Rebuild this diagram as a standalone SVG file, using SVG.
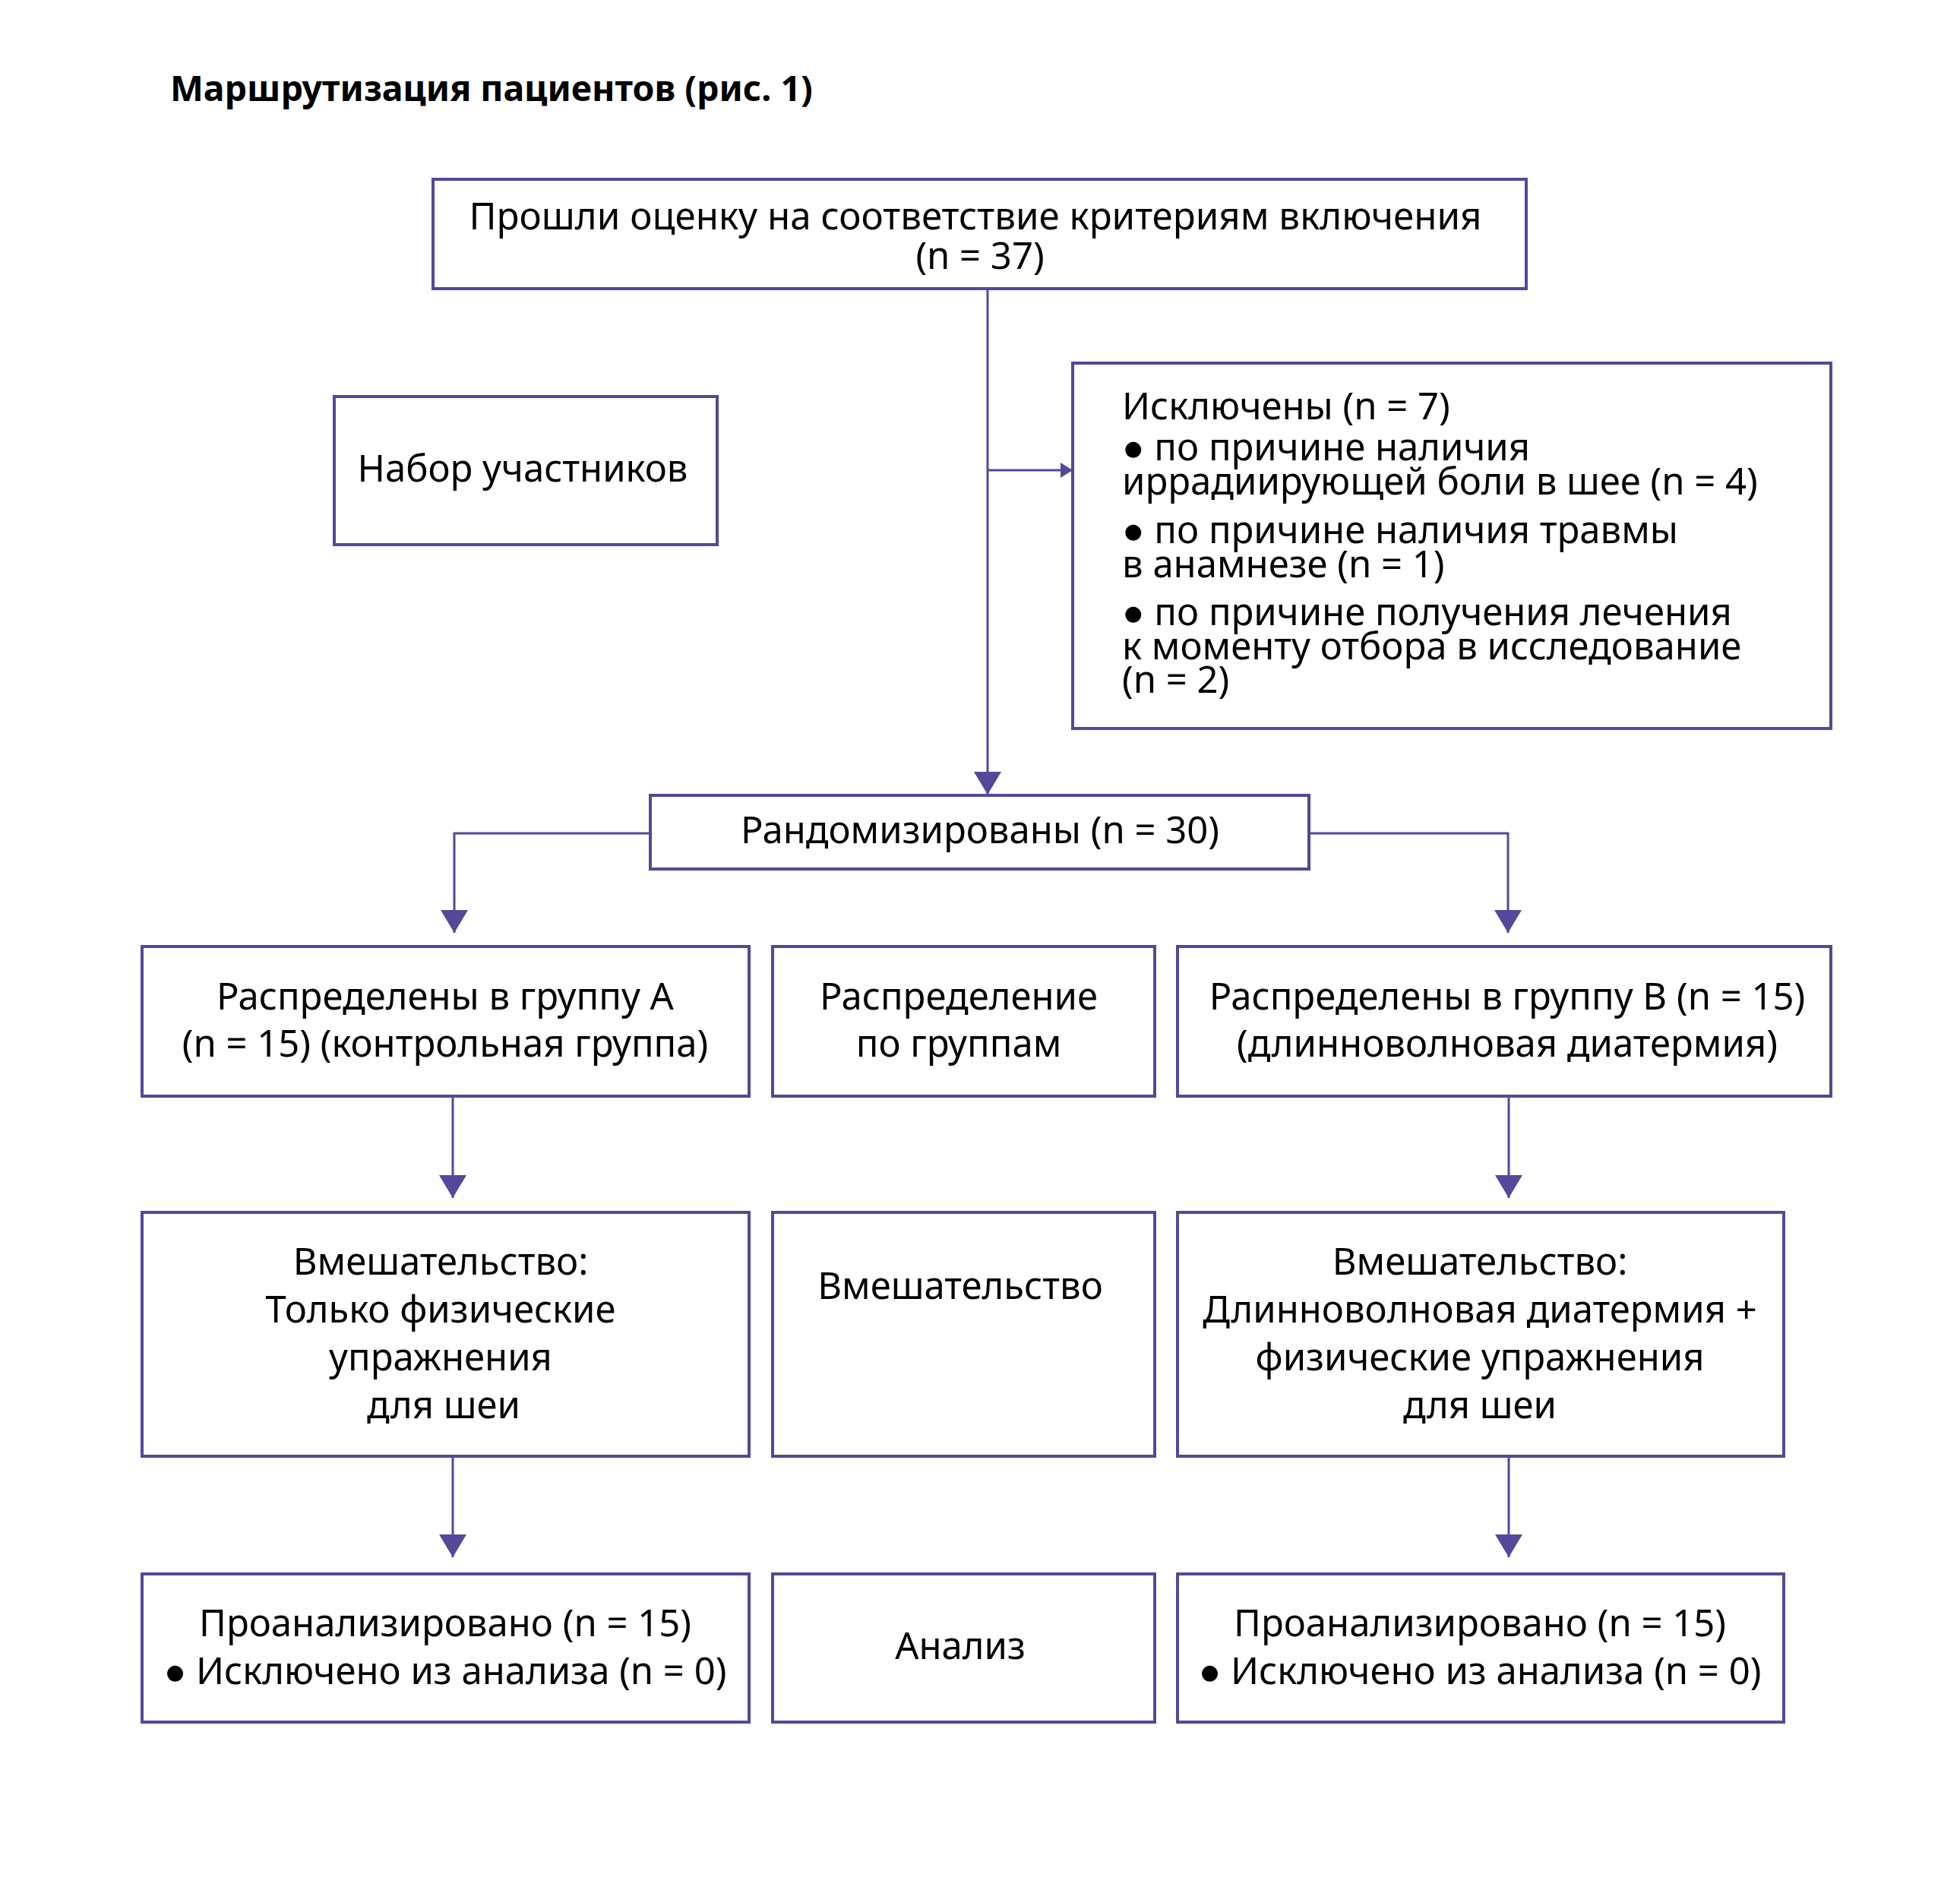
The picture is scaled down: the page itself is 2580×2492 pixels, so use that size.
<svg xmlns="http://www.w3.org/2000/svg" width="2580" height="2492" viewBox="0 0 2580 2492">
<style>
  .box { fill: #ffffff; stroke: #55489a; stroke-width: 4; }
  .t { font-family: "Noto Sans", "Open Sans", sans-serif; font-size: 49px; fill: #000000; }
  .c { text-anchor: middle; }
  .title { font-family: "Noto Sans", "Open Sans", sans-serif; font-size: 46.5px; font-weight: bold; fill: #000000; }
  .ln { fill: none; stroke: #55489a; stroke-width: 3; }
</style>
<defs>
  <marker id="arr" markerWidth="16" markerHeight="20" refX="16" refY="10" orient="auto" markerUnits="userSpaceOnUse" viewBox="0 0 16 20">
    <path d="M0,0 L16,10 L0,20 z" fill="#55489a"/>
  </marker>
  <marker id="arrBig" markerWidth="30" markerHeight="36" refX="30" refY="18" orient="auto" markerUnits="userSpaceOnUse" viewBox="0 0 30 36">
    <path d="M0,0 L30,18 L0,36 z" fill="#55489a"/>
  </marker>
</defs>
<rect width="2580" height="2492" fill="#ffffff"/>
<text class="title" x="224" y="133">Маршрутизация пациентов (рис. 1)</text>

<g id="connectors">
  <path class="ln" d="M1300,380 L1300,1046" marker-end="url(#arrBig)"/>
  <path class="ln" d="M1300,619 L1412,619" marker-end="url(#arr)"/>
  <path class="ln" d="M856,1097 L598,1097 L598,1228" marker-end="url(#arrBig)"/>
  <path class="ln" d="M1723,1097 L1985,1097 L1985,1228" marker-end="url(#arrBig)"/>
  <path class="ln" d="M596,1443 L596,1577" marker-end="url(#arrBig)"/>
  <path class="ln" d="M1986,1443 L1986,1577" marker-end="url(#arrBig)"/>
  <path class="ln" d="M596,1917 L596,2050" marker-end="url(#arrBig)"/>
  <path class="ln" d="M1986,1917 L1986,2050" marker-end="url(#arrBig)"/>
</g>

<g id="screened">
  <rect class="box" x="570" y="236" width="1439" height="144"/>
  <text class="t c" x="1284" y="302" textLength="1333" lengthAdjust="spacingAndGlyphs">Прошли оценку на соответствие критериям включения</text>
  <text class="t c" x="1290" y="354">(n = 37)</text>
</g>

<g id="recruitment">
  <rect class="box" x="440" y="522" width="504" height="195"/>
  <text class="t c" x="688" y="634">Набор участников</text>
</g>

<g id="excluded">
  <rect class="box" x="1412" y="478" width="998" height="481"/>
  <text class="t" x="1477" y="552">Исключены (n = 7)</text>
  <text class="t" x="1477" y="606">● по причине наличия</text>
  <text class="t" x="1477" y="651">иррадиирующей боли в шее (n = 4)</text>
  <text class="t" x="1477" y="715">● по причине наличия травмы</text>
  <text class="t" x="1477" y="760">в анамнезе (n = 1)</text>
  <text class="t" x="1477" y="823">● по причине получения лечения</text>
  <text class="t" x="1477" y="868">к моменту отбора в исследование</text>
  <text class="t" x="1477" y="912">(n = 2)</text>
</g>

<g id="randomized">
  <rect class="box" x="856" y="1047" width="867" height="97"/>
  <text class="t c" x="1290" y="1110">Рандомизированы (n = 30)</text>
</g>

<g id="allocA">
  <rect class="box" x="187" y="1246" width="799" height="197"/>
  <text class="t c" x="586" y="1329">Распределены в группу А</text>
  <text class="t c" x="586" y="1391">(n = 15) (контрольная группа)</text>
</g>
<g id="allocLabel">
  <rect class="box" x="1017" y="1246" width="503" height="197"/>
  <text class="t c" x="1262" y="1329">Распределение</text>
  <text class="t c" x="1262" y="1391">по группам</text>
</g>
<g id="allocB">
  <rect class="box" x="1550" y="1246" width="860" height="197"/>
  <text class="t c" x="1984" y="1329">Распределены в группу B (n = 15)</text>
  <text class="t c" x="1984" y="1391">(длинноволновая диатермия)</text>
</g>

<g id="interventionA">
  <rect class="box" x="187" y="1596" width="799" height="321"/>
  <text class="t c" x="580" y="1678">Вмешательство:</text>
  <text class="t c" x="580" y="1741">Только физические</text>
  <text class="t c" x="580" y="1804">упражнения</text>
  <text class="t c" x="584" y="1867">для шеи</text>
</g>
<g id="interventionLabel">
  <rect class="box" x="1017" y="1596" width="503" height="321"/>
  <text class="t c" x="1264" y="1710">Вмешательство</text>
</g>
<g id="interventionB">
  <rect class="box" x="1550" y="1596" width="798" height="321"/>
  <text class="t c" x="1948" y="1678">Вмешательство:</text>
  <text class="t c" x="1948" y="1741">Длинноволновая диатермия +</text>
  <text class="t c" x="1948" y="1804">физические упражнения</text>
  <text class="t c" x="1948" y="1867">для шеи</text>
</g>

<g id="analysisA">
  <rect class="box" x="187" y="2072" width="799" height="195"/>
  <text class="t c" x="586" y="2154">Проанализировано (n = 15)</text>
  <text class="t c" x="586" y="2217">● Исключено из анализа (n = 0)</text>
</g>
<g id="analysisLabel">
  <rect class="box" x="1017" y="2072" width="503" height="195"/>
  <text class="t c" x="1264" y="2184">Анализ</text>
</g>
<g id="analysisB">
  <rect class="box" x="1550" y="2072" width="798" height="195"/>
  <text class="t c" x="1948" y="2154">Проанализировано (n = 15)</text>
  <text class="t c" x="1948" y="2217">● Исключено из анализа (n = 0)</text>
</g>
</svg>
